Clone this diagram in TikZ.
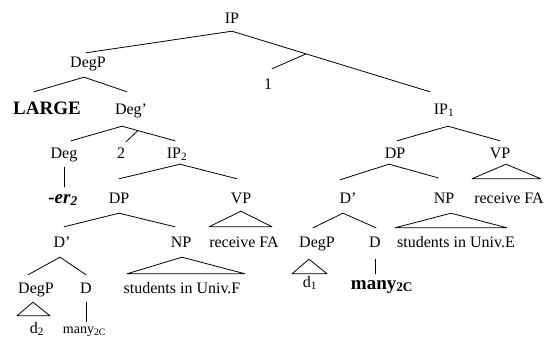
\documentclass[tikz,border=0pt]{standalone}
\usepackage{fontspec}
\setmainfont{Liberation Serif}
\newcommand\fsreg{\fontsize{16}{19}\selectfont}
\newcommand\fsbig{\fontsize{19}{23}\selectfont}
\newcommand\fssml{\fontsize{14}{17}\selectfont}
\tikzset{
  lab/.style={anchor=base, inner sep=0pt, font=\fsreg},
  bld/.style={lab, font=\fsbig\bfseries},
  edge/.style={line width=0.8pt, line cap=round, line join=round}
}
\begin{document}
\begin{tikzpicture}[x=1pt, y=-1pt]
\path[use as bounding box] (0,0) rectangle (547,345);

% ---- nodes ----
\node[lab, text depth=7pt] (IP) at (232,24) {IP};
\node[lab, text height=15pt, text depth=9pt] (DegPa) at (88,68) {DegP};
\node[lab, text height=21pt] (one) at (268,90) {1};
\node[bld, text height=22pt] (LARGE) at (47,114) {LARGE};
\node[lab, text height=22pt, text depth=12pt] (Degbar) at (131,114) {Deg’};
\node[lab, text height=22pt, text depth=12pt] (IPone) at (444,114) {IP\textsubscript{1}};
\node[lab, text height=17pt, text depth=9pt] (Deg) at (64,158) {Deg};
\node[lab, text height=16pt] (two) at (121,158) {2};
\node[lab, text height=17pt, text depth=6pt] (IPtwo) at (177,158) {IP\textsubscript{2}};
\node[lab, text height=17pt, text depth=6pt] (DPr) at (395,158) {DP};
\node[lab, text height=17pt, text depth=6pt] (VPr) at (500,158) {VP};
\node[bld, text height=16pt] (er) at (63,203) {\textit{-er\textsubscript{2}}};
\node[lab, text height=24pt, text depth=10pt] (DPl) at (119,203) {DP};
\node[lab, text height=24pt, text depth=8pt] (VPl) at (241,203) {VP};
\node[lab, text height=23pt, text depth=10pt] (Dbarr) at (348,203) {D’};
\node[lab, text height=25pt, text depth=10pt] (NPr) at (444,203) {NP};
\node[lab, text height=24pt] (recvr) at (509,203) {receive FA};
\node[lab, text height=20pt, text depth=10pt] (Dbarl) at (62,247) {D’};
\node[lab, text height=20pt, text depth=10pt] (NPl) at (181,247) {NP};
\node[lab, text height=20pt] (recvl) at (244,247) {receive FA};
\node[lab, text height=19pt, text depth=12pt] (DegPr) at (317,247) {DegP};
\node[lab, text height=19pt, text depth=12pt] (Dr) at (375,247) {D};
\node[lab, text height=19pt] (studE) at (456,247) {students in Univ.E};
\node[lab, text height=13pt] (done) at (310,287) {d\textsubscript{1}};
\node[bld, text height=15pt] (manyr) at (382,289) {many\textsubscript{2C}};
\node[lab, text height=18pt, text depth=9pt] (DegPl) at (36,293) {DegP};
\node[lab, text height=18pt, text depth=9pt] (Dl) at (86,293) {D};
\node[lab, text height=19pt] (studF) at (182,293) {students in Univ.F};
\node[lab, text height=17pt] (dtwo) at (37,333) {d\textsubscript{2}};
\node[lab, font=\fssml, text height=11pt] (manyl) at (84.5,333) {many\textsubscript{2C}};

% ---- branches ----
\draw[edge] (IP.south) -- ([xshift=-2pt]DegPa.north);
\draw[edge] (IP.south) -- ([xshift=-14pt]IPone.north);
\path (IP.south) -- ([xshift=-14pt]IPone.north) coordinate[pos=0.374] (mone);
\draw[edge] (mone) -- ([xshift=4pt]one.north);

\draw[edge] ([xshift=-4pt]DegPa.south) -- ([xshift=-13pt]LARGE.north);
\draw[edge] ([xshift=-4pt]DegPa.south) -- ([xshift=-4pt]Degbar.north);

\draw[edge] ([xshift=-9pt]Degbar.south) -- ([xshift=7pt]Deg.north);
\draw[edge] ([xshift=-9pt]Degbar.south) -- ([xshift=-2pt]IPtwo.north);
\path ([xshift=-9pt]Degbar.south) -- ([xshift=-2pt]IPtwo.north) coordinate[pos=0.30] (mtwo);
\draw[edge] (mtwo) -- ([xshift=5pt]two.north);

\draw[edge] (Deg.south) -- (Deg.south |- er.north);

\draw[edge] ([xshift=3pt]IPtwo.south) -- (DPl.north);
\draw[edge] ([xshift=3pt]IPtwo.south) -- ([xshift=-4pt]VPl.north);
\draw[edge] (VPl.south) -- ([xshift=-35pt]recvl.north) -- ([xshift=28pt]recvl.north) -- cycle;

\draw[edge] (DPl.south) -- ([xshift=2pt]Dbarl.north);
\draw[edge] (DPl.south) -- ([xshift=-6pt]NPl.north);
\draw[edge] ([xshift=1pt]NPl.south) -- ([xshift=-55pt]studF.north) -- ([xshift=63pt]studF.north) -- cycle;

\draw[edge] ([xshift=-2pt]Dbarl.south) -- ([xshift=-8pt]DegPl.north);
\draw[edge] ([xshift=-2pt]Dbarl.south) -- (Dl.north);
\draw[edge] ([xshift=-3pt]DegPl.south) -- ([xshift=-20pt]dtwo.north) -- ([xshift=13pt]dtwo.north) -- cycle;
\draw[edge] (Dl.south) -- (Dl.south |- manyl.north);

\draw[edge] ([xshift=4pt]IPone.south) -- ([xshift=2pt]DPr.north);
\draw[edge] ([xshift=4pt]IPone.south) -- (VPr.north);
\draw[edge] ([xshift=6pt]VPr.south) -- ([xshift=-37pt]recvr.north) -- ([xshift=32pt]recvr.north) -- cycle;

\draw[edge] ([xshift=-6pt]DPr.south) -- ([xshift=-8pt]Dbarr.north);
\draw[edge] ([xshift=-6pt]DPr.south) -- ([xshift=-6pt]NPr.north);
\draw[edge] ([xshift=7pt]NPr.south) -- ([xshift=-61pt]studE.north) -- ([xshift=51pt]studE.north) -- cycle;

\draw[edge] ([xshift=-5pt]Dbarr.south) -- ([xshift=-4pt]DegPr.north);
\draw[edge] ([xshift=-5pt]Dbarr.south) -- ([xshift=1pt]Dr.north);
\draw[edge] ([xshift=-8pt]DegPr.south) -- ([xshift=-18pt]done.north) -- ([xshift=17pt]done.north) -- cycle;
\draw[edge] (Dr.south) -- (Dr.south |- manyr.north);
\end{tikzpicture}
\end{document}
